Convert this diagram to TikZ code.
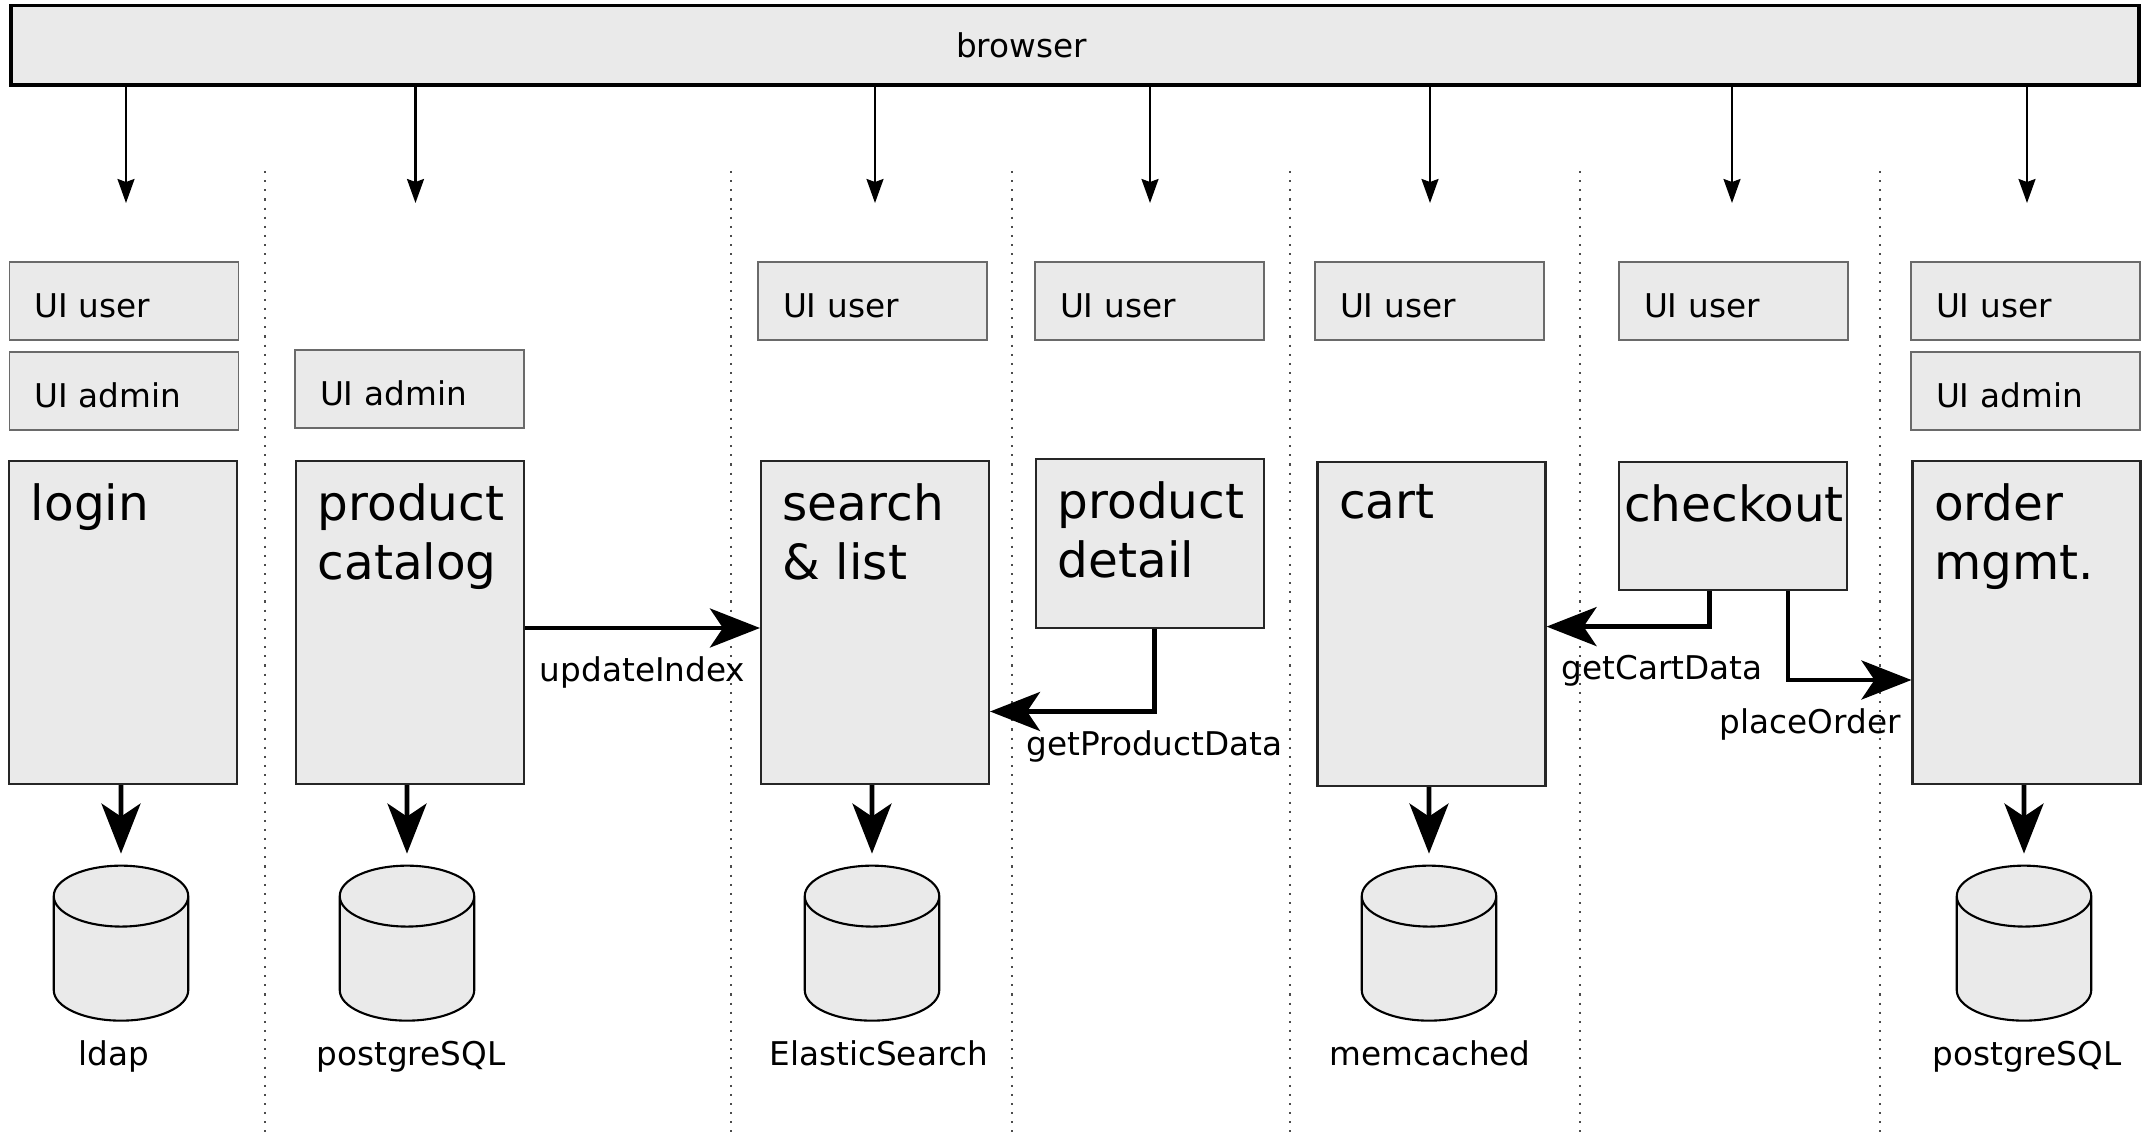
\documentclass[tikz,border=0pt]{standalone}
\usepackage{fontspec}
\setmainfont{DejaVu Sans}
\usepackage{tikz}
\usetikzlibrary{arrows.meta,positioning,calc,shapes}

\definecolor{boxfill}{HTML}{EAEAEA}
\definecolor{uiline}{HTML}{6A6A6A}

\begin{document}
\begin{tikzpicture}[
    txt/.style={font=\fontsize{9.3}{11}\selectfont, inner sep=0pt},
    uibox/.style={draw=uiline, fill=boxfill, line width=0.5pt, minimum height=0.78cm,
      text width=1.79cm, inner xsep=0.25cm, align=left, text height=0.33cm, text depth=0pt,
      font=\fontsize{9.3}{11}\selectfont},
    svc/.style={draw=black!85, fill=boxfill, line width=0.6pt, minimum width=2.28cm},
    svclbl/.style={anchor=north west, inner sep=0pt, align=left,
      font=\fontsize{13.8}{17}\selectfont, xshift=0.22cm, yshift=-0.227cm},
    db/.style={cylinder, shape border rotate=90, aspect=2.6, draw=black, fill=boxfill,
      line width=0.6pt, minimum width=1.345cm, minimum height=1.55cm},
    req/.style={-{Stealth[length=0.24cm,width=0.17cm,inset=0.03cm]}, line width=0.6pt},
    call/.style={-{Stealth[length=0.5cm,width=0.39cm,inset=0.13cm]}, line width=1.3pt},
    lane/.style={dotted, line width=0.6pt, black!70}
]
\useasboundingbox (0,0) rectangle (21.5,-11.32);

% browser on top
\node[draw, fill=boxfill, line width=1.1pt, minimum width=21.28cm, minimum height=0.795cm,
  label={[txt, xshift=-0.535cm]center:browser}] (browser) at (10.75,-0.4525) {};

\foreach \x [count=\i] in {1.26,4.155,8.75,11.50,14.30,17.32,20.27}
  \coordinate (in\i) at (\x,-2.03);
\foreach \i in {1,...,7}
  \draw[req] (browser.south -| in\i) -- (in\i);

% lanes
\foreach \x in {2.65,7.31,10.12,12.90,15.80,18.80}
  \draw[lane] (\x,-1.71) -- (\x,-11.32);

% UI parts
\node[uibox] (user1) at (1.24,-3.01) {UI user};
\node[uibox, below=0.1cm of user1] (admin1) {UI admin};
\node[uibox] (admin2) at (4.095,-3.89) {UI admin};
\node[uibox] (user3) at (8.725,-3.01) {UI user};
\node[uibox] (user4) at (11.495,-3.01) {UI user};
\node[uibox] (user5) at (14.295,-3.01) {UI user};
\node[uibox] (user6) at (17.335,-3.01) {UI user};
\node[uibox] (user7) at (20.255,-3.01) {UI user};
\node[uibox, below=0.1cm of user7] (admin7) {UI admin};

% services
\node[svc, minimum height=3.23cm, label={[svclbl]north west:login}] (login) at (1.233,-6.225) {};
\node[svc, minimum height=3.23cm, label={[svclbl]north west:product\\catalog}] (catalog) at (4.10,-6.225) {};
\node[svc, minimum height=3.23cm, label={[svclbl]north west:search\\\& list}] (search) at (8.75,-6.225) {};
\node[svc, minimum height=1.69cm, label={[svclbl]north west:product\\detail}] (detail) at (11.50,-5.435) {};
\node[svc, minimum height=3.24cm, label={[svclbl]north west:cart}] (cart) at (14.315,-6.24) {};
\node[svc, minimum height=1.28cm, label={[svclbl, xshift=-0.165cm]north west:checkout}] (checkout) at (17.33,-5.26) {};
\node[svc, minimum height=3.23cm, label={[svclbl]north west:order\\mgmt.}] (order) at (20.265,-6.225) {};

% storage
\node[db] (ldapdb) at (1.21,-9.675) {};
\node[db] (pgdb) at (4.07,-9.675) {};
\node[db] (esdb) at (8.72,-9.675) {};
\node[db] (cachedb) at (14.29,-9.675) {};
\node[db] (orderdb) at (20.24,-9.675) {};

\node[txt, anchor=base] (ldaplbl) at (1.14,-10.655) {ldap};
\node[txt, anchor=base] (pglbl) at (4.11,-10.655) {postgreSQL};
\node[txt, anchor=base] (eslbl) at (8.79,-10.655) {ElasticSearch};
\node[txt, anchor=base] (cachelbl) at (14.30,-10.655) {memcached};
\node[txt, anchor=base] (orderlbl) at (20.27,-10.655) {postgreSQL};

\draw[call] (login.south -| ldapdb) -- ([yshift=0.11cm]ldapdb.north);
\draw[call] (catalog.south -| pgdb) -- ([yshift=0.11cm]pgdb.north);
\draw[call] (search.south -| esdb) -- ([yshift=0.11cm]esdb.north);
\draw[call] (cart.south -| cachedb) -- ([yshift=0.11cm]cachedb.north);
\draw[call] (order.south -| orderdb) -- ([yshift=0.11cm]orderdb.north);

% calls between services
\draw[call] ([yshift=-0.055cm]catalog.east) -- ([yshift=-0.055cm]search.west)
  node[txt, midway, below=0.26cm] {updateIndex};
\draw[call] ([xshift=0.045cm]detail.south) |- ([yshift=-0.89cm]search.east)
  node[txt, pos=0.5, below=0.17cm] {getProductData};
\draw[call] ([xshift=-0.235cm]checkout.south) |- ([yshift=-0.026cm]cart.east)
  node[txt, pos=0.645, below=0.26cm] {getCartData};
\draw[call] ([xshift=0.55cm]checkout.south) |- ([yshift=-0.575cm]order.west)
  node[txt, pos=0.59, below=0.26cm] {placeOrder};
\end{tikzpicture}
\end{document}
